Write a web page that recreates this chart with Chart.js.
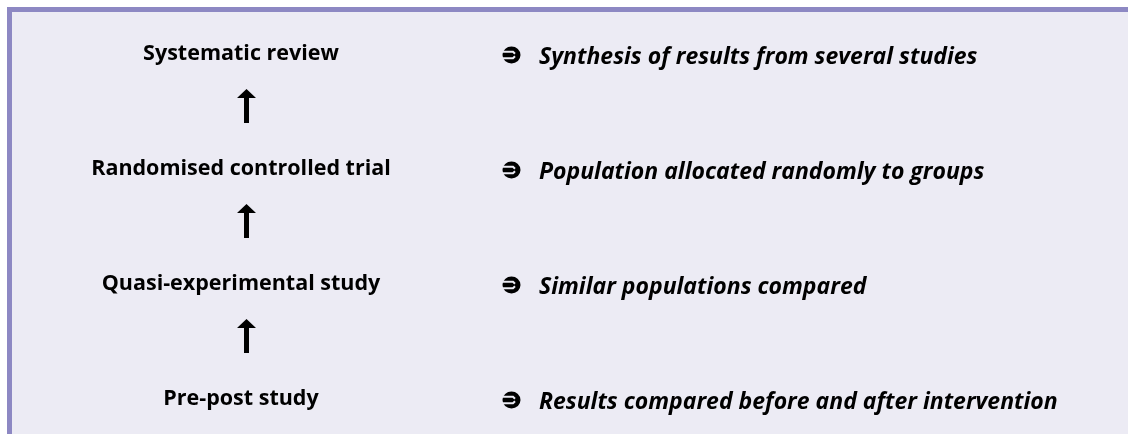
<!DOCTYPE html>
<html>
<head>
<meta charset="utf-8">
<script src="https://cdn.jsdelivr.net/npm/chart.js@4.4.1/dist/chart.umd.min.js"></script>
<style>
  html, body { margin: 0; padding: 0; background: #ffffff; }
  #wrap {
    position: absolute; left: 7px; top: 7px;
    width: 1116px; height: 422px;
    border-top: 5px solid #8d88c3; border-left: 5px solid #8d88c3;
    background: #ecebf4;
  }
  canvas { display: block; }
</style>
</head>
<body>
<div id="wrap"><canvas id="c" width="1116" height="422"></canvas></div>
<script>
// Hierarchy of evidence, top (strongest) to bottom
const levels = [
  "Systematic review",
  "Randomised controlled trial",
  "Quasi-experimental study",
  "Pre-post study"
];
const descriptions = [
  "Synthesis of results from several studies",
  "Population allocated randomly to groups",
  "Similar populations compared",
  "Results compared before and after intervention"
];
// column positions on the x scale (0..1)
const COL_LEVEL = 229 / 1116;
const COL_ARROW = 234.5 / 1116;
const COL_DESC = 491 / 1116;

const rows = levels.map((_, i) => i);

function drawBullet(ctx, cx, cy) {
  // black disc crossed by a white arrow outline pointing right
  ctx.save();
  ctx.fillStyle = '#000';
  ctx.beginPath();
  ctx.ellipse(cx, cy, 9, 8.5, 0, 0, Math.PI * 2);
  ctx.fill();
  ctx.strokeStyle = '#ecebf4';
  ctx.lineWidth = 2;
  ctx.lineCap = 'butt';
  ctx.beginPath();
  ctx.moveTo(cx - 10, cy - 3.2);
  ctx.lineTo(cx + 1.5, cy - 3.2);
  ctx.lineTo(cx + 3.5, cy - 1.2);
  ctx.moveTo(cx - 10, cy + 3.2);
  ctx.lineTo(cx + 1.5, cy + 3.2);
  ctx.lineTo(cx + 3.5, cy + 1.2);
  ctx.stroke();
  ctx.restore();
}

const textPlugin = {
  id: 'hierarchyText',
  afterDatasetsDraw(chart) {
    const ctx = chart.ctx;
    const xs = chart.scales.x, ys = chart.scales.y;
    ctx.save();
    ctx.fillStyle = '#000';
    // level labels
    ctx.font = 'bold 21.5px "Open Sans"';
    ctx.textAlign = 'center';
    ctx.textBaseline = 'alphabetic';
    chart.getDatasetMeta(0).data.forEach((pt, i) => {
      ctx.fillText(levels[i], pt.x, pt.y);
    });
    // descriptions with bullet symbol
    chart.getDatasetMeta(1).data.forEach((pt, i) => {
      drawBullet(ctx, pt.x + 8.5, pt.y - 5);
      ctx.textAlign = 'left';
      ctx.fillStyle = '#000';
      ctx.font = 'italic bold 23px "Open Sans"';
      ctx.fillText(descriptions[i], pt.x + 36, pt.y + 4);
    });
    // arrows between consecutive levels, pointing upward
    const ax = xs.getPixelForValue(COL_ARROW);
    for (let i = 0; i < levels.length - 1; i++) {
      const mid = ys.getPixelForValue(i + 0.5);
      const tip = mid - 28.5, headBase = mid - 19.5, bottom = mid + 5.5;
      ctx.beginPath();
      ctx.moveTo(ax, tip);
      ctx.lineTo(ax + 9.5, headBase);
      ctx.lineTo(ax + 2.5, headBase);
      ctx.lineTo(ax + 2.5, bottom);
      ctx.lineTo(ax - 2.5, bottom);
      ctx.lineTo(ax - 2.5, headBase);
      ctx.lineTo(ax - 9.5, headBase);
      ctx.closePath();
      ctx.fill();
    }
    ctx.restore();
  }
};

new Chart(document.getElementById('c'), {
  type: 'scatter',
  data: {
    datasets: [
      { label: 'Level', data: rows.map(r => ({ x: COL_LEVEL, y: r })), pointRadius: 0, pointHoverRadius: 0 },
      { label: 'Description', data: rows.map(r => ({ x: COL_DESC, y: r })), pointRadius: 0, pointHoverRadius: 0 }
    ]
  },
  options: {
    responsive: false,
    animation: false,
    events: [],
    layout: { padding: 0 },
    plugins: { legend: { display: false }, tooltip: { enabled: false } },
    scales: {
      x: { type: 'linear', display: false, min: 0, max: 1 },
      y: { type: 'linear', display: false, reverse: true, min: -48 / 115, max: (422 - 48) / 115 }
    }
  },
  plugins: [textPlugin]
});
</script>
</body>
</html>
